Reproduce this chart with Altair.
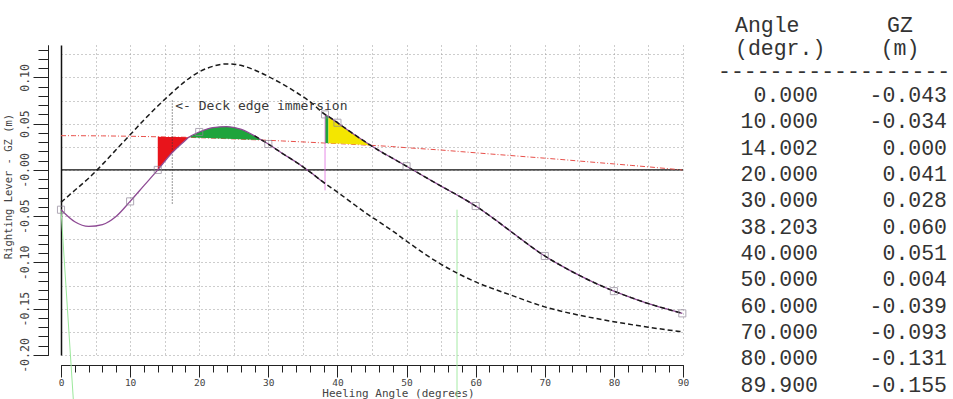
import altair as alt
import pandas as pd

# ---- tabulated GZ values (table on the right and square markers) ----
tab_angle = [0.0, 10.0, 14.002, 20.0, 30.0, 38.203, 40.0, 50.0, 60.0, 70.0, 80.0, 89.9]
tab_gz = [-0.043, -0.034, 0.000, 0.041, 0.028, 0.060, 0.051, 0.004, -0.039, -0.093, -0.131, -0.155]

# ---- GZ curve up to the jump at 38.203 deg, with the heeling lever at the same angles ----
gz1_angle = [0, 2, 4, 6, 8, 10, 12, 14.002, 16, 18, 18.5, 20, 22, 24, 26, 28, 29, 30, 32, 34, 36, 38, 38.203]
gz1_value = [-0.043, -0.056, -0.061, -0.059, -0.050, -0.034, -0.017, 0.0, 0.018, 0.032, 0.0352, 0.041,
             0.0458, 0.0468, 0.0440, 0.0368, 0.0323, 0.028, 0.018, 0.0085, -0.002, -0.0135, -0.0145]
gz1_heel = [0.0370, 0.0370, 0.0369, 0.0368, 0.0366, 0.0364, 0.0361, 0.0358, 0.0355, 0.0353, 0.0352, 0.0348,
            0.0343, 0.0338, 0.0332, 0.0326, 0.0323, 0.0320, 0.0313, 0.0306, 0.0299, 0.0291, 0.0290]

# ---- GZ curve after the jump ----
gz2_angle = [38.203, 38.7, 40, 42, 44, 44.8, 46, 48, 50, 53, 55, 58, 60, 62.5, 65, 67.5, 70, 72.5, 75,
             77.5, 80, 82.5, 85, 87.5, 89.9]
gz2_value = [0.060, 0.0578, 0.051, 0.0405, 0.0305, 0.0266, 0.021, 0.0125, 0.004, -0.009, -0.0175, -0.030,
             -0.039, -0.052, -0.066, -0.080, -0.093, -0.104, -0.114, -0.123, -0.131, -0.138, -0.1445,
             -0.150, -0.155]
gz2_heel = [0.0290, 0.0289, 0.0285, 0.0277, 0.0269, 0.0266, 0.0261, 0.0252, 0.0240, 0.0225, 0.0215, 0.0197,
            0.0185, 0.0170, 0.0156, 0.0141, 0.0127, 0.0112, 0.0096, 0.0080, 0.0065, 0.0049, 0.0033,
            0.0016, 0.0]

# ---- upper dashed GZ curve (joins the GZ curve from 38.203 deg) ----
upper_angle = [0, 2, 4, 6, 8, 10, 12, 14, 16, 18, 20, 22, 24, 26, 28, 30, 32, 34, 36, 38.203]
upper_value = [-0.035, -0.022, -0.009, 0.006, 0.022, 0.038, 0.054, 0.069, 0.083, 0.096, 0.106, 0.112,
               0.1146, 0.113, 0.108, 0.101, 0.093, 0.084, 0.074, 0.060]

# ---- lower dashed GZ curve ----
lower_angle = [28, 30, 32, 34, 36, 38, 40, 42, 44, 46, 48, 50, 55, 60, 65, 70, 75, 80, 85, 90]
lower_value = [0.0368, 0.028, 0.018, 0.0085, -0.002, -0.0135, -0.024, -0.035, -0.046, -0.056, -0.066,
               -0.077, -0.102, -0.121, -0.135, -0.148, -0.157, -0.164, -0.170, -0.175]

# ---- GM line from the origin and the 1 radian marker ----
gm_angle = [0.0, 1.8]
gm_value = [-0.043, -0.25]
radian_angle = 57.3
radian_top, radian_bottom = -0.043, -0.25

# ---- deck edge immersion and the jump of the GZ curve ----
deck_angle = 16.1
deck_top, deck_bottom = 0.075, -0.037
jump_angle = 38.203
jump_top, jump_bottom = 0.060, -0.022

# ---- axis tick values ----
x_major = list(range(0, 91, 10))
x_minor = list(range(0, 91, 2))
x_grid = list(range(5, 91, 5))
y_major = [-0.20, -0.15, -0.10, -0.05, 0.0, 0.05, 0.10]
y_minor = [round(-0.20 + 0.01 * i, 2) for i in range(34)]
y_grid = [round(-0.20 + 0.025 * i, 3) for i in range(14)]

FONT = "DejaVu Sans Mono"
TABLE_FONT = "Liberation Mono"
INK = "#222222"

X_SCALE = alt.Scale(domain=[0, 90], nice=False, zero=False)
Y_SCALE = alt.Scale(domain=[-0.20, 0.135], nice=False, zero=False)


def xq(field, axis=None):
    return alt.X(field, type="quantitative", scale=X_SCALE, axis=axis)


def yq(field, axis=None):
    return alt.Y(field, type="quantitative", scale=Y_SCALE, axis=axis)


gz1 = pd.DataFrame({"angle": gz1_angle, "gz": gz1_value, "heel": gz1_heel, "branch": 1})
gz2 = pd.DataFrame({"angle": gz2_angle, "gz": gz2_value, "heel": gz2_heel, "branch": 2})
gz_all = pd.concat([gz1, gz2], ignore_index=True)
heel_df = gz_all.drop_duplicates("angle")[["angle", "heel"]]
upper_df = pd.DataFrame({"angle": upper_angle + gz2_angle[1:], "gz": upper_value + gz2_value[1:]})
lower_df = pd.DataFrame({"angle": lower_angle, "gz": lower_value})
tab_df = pd.DataFrame({"angle": tab_angle, "gz": tab_gz})
gm_df = pd.DataFrame({"angle": gm_angle, "gz": gm_value})
marks_df = pd.DataFrame({
    "angle": [radian_angle, deck_angle, jump_angle],
    "top": [radian_top, deck_top, jump_top],
    "bottom": [radian_bottom, deck_bottom, jump_bottom],
    "kind": ["radian", "deck", "jump"],
})

# axes: grid, minor ruler, major ruler, left frame line
grid_x = alt.Axis(orient="bottom", values=x_grid, grid=True, gridDash=[1, 3], gridColor="#9a9a9a",
                  ticks=False, labels=False, domain=False, title=None)
grid_y = alt.Axis(orient="left", values=y_grid, grid=True, gridDash=[1, 3], gridColor="#9a9a9a",
                  ticks=False, labels=False, domain=False, title=None)
minor_x = alt.Axis(orient="bottom", values=x_minor, offset=10, tickSize=7, tickColor=INK,
                   domainColor=INK, labels=False, grid=False, title=None)
minor_y = alt.Axis(orient="left", values=y_minor, offset=13, tickSize=10, tickColor=INK,
                   domainColor=INK, labels=False, grid=False, title=None)
major_x = alt.Axis(orient="bottom", values=x_major, offset=10, tickSize=12, tickColor=INK,
                   domainColor=INK, grid=False, labelFont=FONT, labelFontSize=9.5, labelColor="#444",
                   labelPadding=0, labelFlush=False, labelOverlap=False,
                   title="Heeling Angle (degrees)", titleFont=FONT, titleFontSize=11,
                   titleFontWeight="normal", titleColor="#444", titleX=337, titleY=28,
                   titleAlign="center", titleBaseline="middle")
major_y = alt.Axis(orient="left", values=y_major, offset=13, tickSize=15, tickColor=INK,
                   domainColor=INK, grid=False, labelFont=FONT, labelFontSize=11.5, labelColor="#444",
                   labelAngle=270, labelAlign="center", labelBaseline="bottom", labelPadding=3,
                   labelFlush=False, labelOverlap=False,
                   labelExpr="datum.value <= 0 ? '-' + format(abs(datum.value), '.2f') : format(datum.value, '.2f')",
                   title="Righting Lever - GZ (m)", titleFont=FONT, titleFontSize=10.5,
                   titleFontWeight="normal", titleColor="#444", titleAngle=270, titleX=-40, titleY=141,
                   titleAlign="center", titleBaseline="middle")
frame_y = alt.Axis(orient="left", offset=0, domain=True, domainColor="#111", domainWidth=1.5,
                   ticks=False, labels=False, grid=False, title=None)

zero_line = alt.Chart(pd.DataFrame({"v": [0.0]})).mark_rule(color="#111", strokeWidth=1.2).encode(
    y=yq("v", frame_y))

heel_line = alt.Chart(heel_df).mark_line(color="#e8504a", strokeWidth=1, strokeDash=[5, 2, 1, 2]).encode(
    x=xq("angle", grid_x), y=yq("heel", grid_y))

red_area = alt.Chart(gz1).transform_filter("datum.angle >= 14.002 && datum.angle <= 18.5").mark_area(
    color="#e8141b", interpolate="monotone").encode(x=xq("angle"), y=yq("gz"), y2="heel")
green_area = alt.Chart(gz1).transform_filter("datum.angle >= 18.5 && datum.angle <= 29").mark_area(
    color="#1fa43c", interpolate="monotone").encode(x=xq("angle"), y=yq("gz"), y2="heel")
green_strip = alt.Chart(gz2).transform_filter("datum.angle <= 38.7").mark_area(
    color="#1fa43c").encode(x=xq("angle"), y=yq("gz"), y2="heel")
yellow_area = alt.Chart(gz2).transform_filter("datum.angle >= 38.7 && datum.angle <= 44.8").mark_area(
    color="#f4e600", interpolate="monotone").encode(x=xq("angle"), y=yq("gz"), y2="heel")

gm_line = alt.Chart(gm_df).mark_line(color="#9be89b", strokeWidth=1).encode(x=xq("angle"), y=yq("gz"))

vert_rules = alt.Chart(marks_df).mark_rule(strokeWidth=1).encode(
    x=xq("angle"), y=yq("top"), y2="bottom",
    color=alt.Color("kind:N", scale=alt.Scale(domain=["radian", "deck", "jump"],
                                              range=["#9be89b", "#333333", "#e27be2"]), legend=None),
    strokeDash=alt.StrokeDash("kind:N", scale=alt.Scale(domain=["radian", "deck", "jump"],
                                                        range=[[1, 0], [1, 2], [1, 0]]), legend=None),
)

gz_line = alt.Chart(gz_all).mark_line(color="#8e4a94", strokeWidth=1.3, interpolate="monotone").encode(
    x=xq("angle", minor_x), y=yq("gz", minor_y), detail="branch:N")

upper_line = alt.Chart(upper_df).mark_line(color="#1a1a1a", strokeWidth=1.5, strokeDash=[5, 3],
                                           interpolate="monotone").encode(x=xq("angle"), y=yq("gz"))
lower_line = alt.Chart(lower_df).mark_line(color="#1a1a1a", strokeWidth=1.5, strokeDash=[5, 3],
                                           interpolate="monotone").encode(x=xq("angle"), y=yq("gz"))

markers = alt.Chart(tab_df).mark_square(filled=False, size=50, color="#8f8597", strokeWidth=1).encode(
    x=xq("angle", major_x), y=yq("gz", major_y))

deck_label = alt.Chart(pd.DataFrame({"angle": [deck_angle]})).mark_text(
    text="<- Deck edge immersion", align="left", baseline="middle", dx=3, font=FONT, fontSize=13,
    color="#3a3a3a").encode(x=xq("angle"), y=alt.Y(datum=0.069, scale=Y_SCALE, axis=None))

# ---- value table on the right ----
row_scale = alt.Scale(domain=[0, 11], range=[51.0, 340.5])
table_df = pd.DataFrame({
    "row": list(range(len(tab_angle))),
    "angle_txt": [f"{a:.3f}" for a in tab_angle],
    "gz_txt": [f"{g:.3f}" for g in tab_gz],
})
head_left = pd.DataFrame({"row": [-2.67, -1.8], "txt": ["Angle", "(degr.)"]})
head_right = pd.DataFrame({"row": [-2.67, -1.8], "txt": ["GZ", "(m)"]})
rule_txt = pd.DataFrame({"row": [-0.93], "txt": ["-" * 18]})

tstyle = dict(font=TABLE_FONT, fontSize=21.5, color="#333333", baseline="middle")
ty = alt.Y("row:Q", scale=row_scale, axis=None)
col_angle = alt.Chart(table_df).mark_text(align="right", **tstyle).encode(
    x=alt.value(757), y=ty, text="angle_txt:N")
col_gz = alt.Chart(table_df).mark_text(align="right", **tstyle).encode(
    x=alt.value(886), y=ty, text="gz_txt:N")
hdr_left = alt.Chart(head_left).mark_text(align="left", **tstyle).encode(
    x=alt.value(674), y=ty, text="txt:N")
hdr_right = alt.Chart(head_right).mark_text(align="center", **tstyle).encode(
    x=alt.value(839), y=ty, text="txt:N")
hdr_rule = alt.Chart(rule_txt).mark_text(align="left", **tstyle).encode(
    x=alt.value(657), y=ty, text="txt:N")

chart = alt.layer(
    zero_line, heel_line, red_area, green_area, green_strip, yellow_area, gm_line, vert_rules,
    gz_line, upper_line, lower_line, markers, deck_label,
    col_angle, col_gz, hdr_left, hdr_right, hdr_rule,
).resolve_scale(
    y="independent"
).resolve_axis(
    x="independent", y="independent"
).properties(
    width=622, height=310,
    padding={"left": 61, "top": 45, "right": 270, "bottom": 44},
    autosize=alt.AutoSizeParams(type="none"),
    background="white",
).configure_view(stroke=None)

chart.save("out.html", embed_options={"renderer": "svg", "actions": False})
